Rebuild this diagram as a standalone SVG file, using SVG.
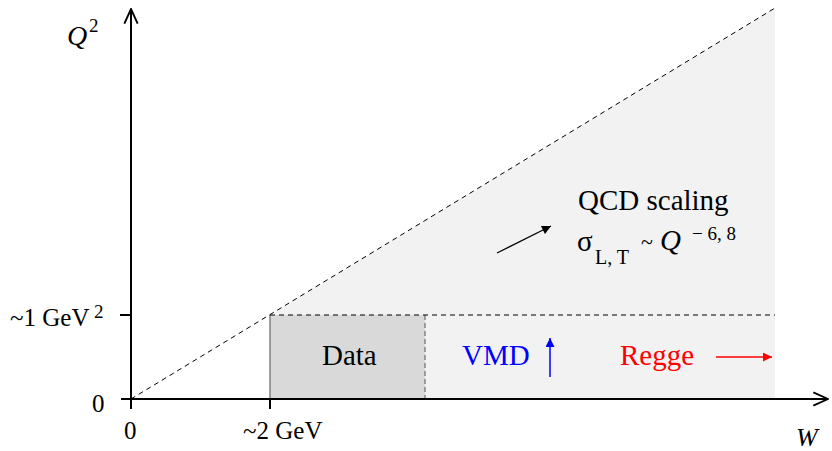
<svg xmlns="http://www.w3.org/2000/svg" width="832" height="451" viewBox="0 0 832 451">
  <defs>
    <marker id="open" viewBox="0 0 12 12" refX="11" refY="6" markerWidth="16" markerHeight="16" markerUnits="userSpaceOnUse" orient="auto">
      <path d="M0,1 L11,6 L0,11" fill="none" stroke="#000" stroke-width="1.4"/>
    </marker>
    <marker id="headK" viewBox="0 0 10 10" refX="10" refY="5" markerWidth="11" markerHeight="9" markerUnits="userSpaceOnUse" orient="auto">
      <path d="M0,0 L10,5 L0,10 Z" fill="#000"/>
    </marker>
    <marker id="headB" viewBox="0 0 10 10" refX="10" refY="5" markerWidth="11" markerHeight="9" markerUnits="userSpaceOnUse" orient="auto">
      <path d="M0,0 L10,5 L0,10 Z" fill="#00f"/>
    </marker>
    <marker id="headR" viewBox="0 0 10 10" refX="10" refY="5" markerWidth="11" markerHeight="9" markerUnits="userSpaceOnUse" orient="auto">
      <path d="M0,0 L10,5 L0,10 Z" fill="#f00"/>
    </marker>
  </defs>
  <style>
    text { font-family: "Liberation Serif", "Times New Roman", serif; fill: #000; }
    .lbl { font-family: "Liberation Serif", "DejaVu Serif", serif; font-size: 29px; }
    .ax { font-size: 25px; }
    .it { font-style: italic; }
    .axis { stroke: #000; stroke-width: 2; fill: none; }
    .dash { stroke: #000; stroke-width: 1; stroke-dasharray: 5 4; fill: none; }
  </style>

  <!-- regions -->
  <g id="regions">
    <polygon points="270,315 775,8 775,399 270,399" fill="#f2f2f2"/>
    <rect id="data-box" x="270" y="315" width="155" height="84" fill="#d9d9d9"/>
    <line x1="270" y1="315" x2="270" y2="399" stroke="#808080" stroke-width="1.5"/>
    <line x1="425" y1="315" x2="425" y2="399" stroke="#555" stroke-width="1" stroke-dasharray="5 3"/>
  </g>

  <!-- boundaries -->
  <g id="boundaries">
    <line class="dash" x1="131" y1="399" x2="775" y2="8"/>
    <line class="dash" x1="270" y1="315" x2="775" y2="315"/>
  </g>

  <!-- axes -->
  <g id="axes">
    <line class="axis" x1="131" y1="409" x2="131" y2="9" marker-end="url(#open)"/>
    <line class="axis" x1="121" y1="399" x2="828" y2="399" marker-end="url(#open)"/>
    <line class="axis" x1="120" y1="315" x2="131" y2="315"/>
    <line class="axis" x1="270" y1="399" x2="270" y2="409"/>
    <text class="it" x="67" y="45" font-size="28">Q</text>
    <text x="89" y="32" font-size="19">2</text>
    <text class="it" x="796" y="446" font-size="26">W</text>
    <text class="ax" x="10" y="326">~1 GeV</text>
    <text x="94" y="318" font-size="19">2</text>
    <text class="ax" x="92" y="412">0</text>
    <text class="ax" x="124" y="439">0</text>
    <text class="ax" x="243" y="439">~2 GeV</text>
  </g>

  <!-- region labels -->
  <g id="data">
    <text class="lbl" x="322" y="365">Data</text>
  </g>
  <g id="vmd">
    <text class="lbl" x="462" y="365" style="fill:#00f">VMD</text>
  </g>
  <g id="regge">
    <text class="lbl" x="620" y="365" style="fill:#f00">Regge</text>
  </g>
  <g id="qcd">
    <text class="lbl" x="578" y="210">QCD scaling</text>
    <text x="577" y="251" font-size="29">σ</text>
    <text x="595" y="264" font-size="20">L, T</text>
    <text x="641" y="249" font-size="22">~</text>
    <text class="it" x="660" y="250" font-size="29">Q</text>
    <text x="692" y="240" font-size="19">− 6, 8</text>
  </g>

  <!-- connectors -->
  <g id="connectors">
    <line x1="497" y1="253" x2="551" y2="226" stroke="#000" stroke-width="1.2" marker-end="url(#headK)"/>
    <line x1="550" y1="377" x2="550" y2="338" stroke="#00f" stroke-width="1.5" marker-end="url(#headB)"/>
    <line x1="716" y1="357" x2="772" y2="357" stroke="#f00" stroke-width="1.5" marker-end="url(#headR)"/>
  </g>
</svg>
